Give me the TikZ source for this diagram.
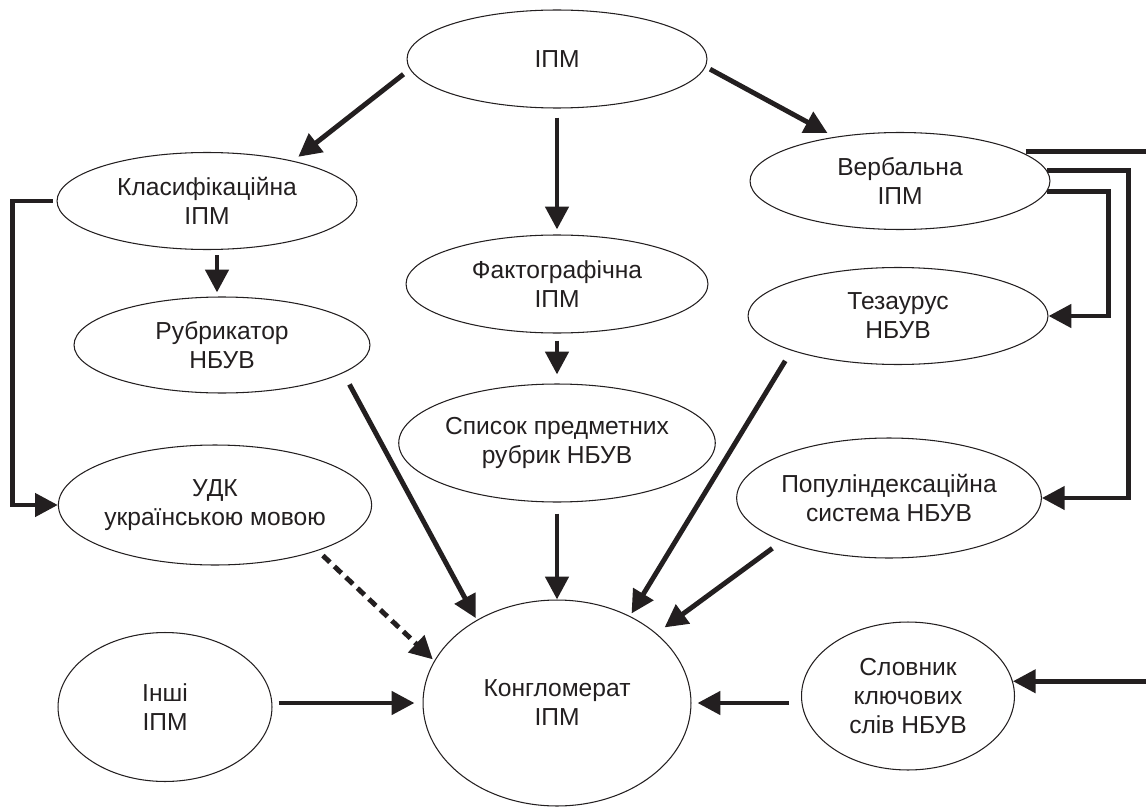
\documentclass[tikz,border=0pt]{standalone}
\usepackage{fontspec}
\setmainfont{Liberation Sans}
\usetikzlibrary{arrows.meta,shapes.geometric}
\definecolor{ink}{RGB}{35,31,32}

\begin{document}
\begin{tikzpicture}[x=0.02cm, y=-0.02cm,
  oval/.style={ellipse, draw=ink, line width=0.6pt, inner sep=0pt,
               font=\fontsize{14}{16.5}\selectfont, text=ink, align=center},
  link/.style={line width=2.8pt, ink, -{Triangle[length=13pt,width=13pt]}},
  maybe/.style={link, dash pattern=on 5.5pt off 3.5pt}
]
  \useasboundingbox (0,0) rectangle (1146,811);
  \clip (0,0) rectangle (1146,811);

  \node[oval, minimum width=6cm,    minimum height=1.96cm] (ipm)   at (557,59)  {ІПМ};
  \node[oval, minimum width=6cm,    minimum height=1.94cm] (klas)  at (207,201) {Класифікаційна\\ІПМ};
  \node[oval, minimum width=6cm,    minimum height=1.94cm] (verb)  at (900,181) {Вербальна\\ІПМ};
  \node[oval, minimum width=6.04cm, minimum height=1.96cm] (fakt)  at (557,284) {Фактографічна\\ІПМ};
  \node[oval, minimum width=5.92cm, minimum height=1.92cm] (rubr)  at (222,345) {Рубрикатор\\НБУВ};
  \node[oval, minimum width=6cm,    minimum height=1.94cm] (tez)   at (898,316) {Тезаурус\\НБУВ};
  \node[oval, minimum width=5.36cm, minimum height=2.36cm] (spys)  at (557,443) {Список предметних\\рубрик НБУВ};
  \node[oval, minimum width=6cm,    minimum height=2.4cm]  (udk)   at (215,505) {УДК\\українською мовою};
  \node[oval, minimum width=5.96cm, minimum height=2.4cm]  (popul) at (889,498) {Популіндексаційна\\система НБУВ};
  \node[oval, minimum width=5.36cm, minimum height=4.12cm] (kong)  at (557,703) {Конгломерат\\ІПМ};
  \node[oval, minimum width=4.28cm, minimum height=2.98cm] (inshi) at (165,707) {Інші\\ІПМ};
  \node[oval, minimum width=4.26cm, minimum height=2.96cm] (slov)  at (908,696) {Словник\\ключових\\слів НБУВ};

  % from the top
  \draw[link, shorten <=0.16cm, shorten >=0.13cm] (ipm.184) -- (klas.25);
  \draw[link, shorten <=0.18cm, shorten >=0.1cm] (ipm) -- (fakt);
  \draw[link, shorten <=0.1cm, shorten >=0.16cm] (ipm.-3) -- (verb.146);

  % left column
  \draw[link, shorten <=0.1cm, shorten >=0.08cm] ([xshift=0.2cm]klas.south) -- ([xshift=0.2cm]klas.south |- rubr.north);
  \draw[link, shorten <=0.08cm] (klas.west) -- ++(-44,0) |- (udk.west);
  \draw[link, shorten <=0.26cm, shorten >=0.04cm] (rubr.-13.5) -- (kong.134);
  \draw[maybe, shorten <=0.14cm, shorten >=0.04cm] (udk.-24) -- (kong.161);
  \draw[link, shorten <=0.12cm, shorten >=0.16cm] (inshi.east |- kong) -- (kong.west);

  % middle column
  \draw[link, shorten <=0.14cm, shorten >=0.18cm] (fakt) -- (spys);
  \draw[link, shorten <=0.22cm] (spys) -- (kong);

  % right column
  \draw[link] (verb.-4) -- ++(61,0) |- (tez.east);
  \draw[link] (verb.4) -- ++(81,0) |- (popul.east);
  \draw[link, shorten <=0.12cm] (verb.14) -- ++(160,0) |- (slov.8);
  \draw[link, shorten <=0.24cm, shorten >=0.06cm] (tez.198) -- (kong.50);
  \draw[link, shorten <=0.24cm, shorten >=0.2cm] (popul.202) -- (kong.35);
  \draw[link, shorten <=0.24cm, shorten >=0.12cm] (slov.west |- kong) -- (kong.east);
\end{tikzpicture}
\end{document}
